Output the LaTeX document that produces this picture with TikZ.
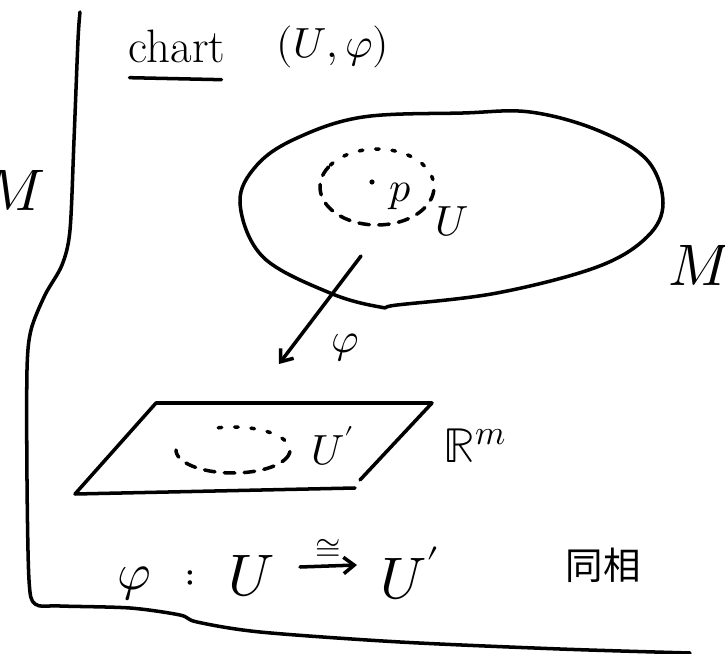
\documentclass[tikz,border=0pt]{standalone}
\usepackage{amsmath}
\usepackage{fontspec}
\usepackage{unicode-math}
\setmathfont{Latin Modern Math}
\usepackage{tikz}
\usetikzlibrary{arrows.meta,positioning,calc}
\newfontfamily\jpfont{Noto Sans CJK JP}
\definecolor{ink}{HTML}{000000}
\definecolor{paper}{HTML}{FFFFFF}
\tikzset{
  pen/.style={draw=ink,line width=3pt,line cap=round,line join=round},
  dotpen/.style={pen,dash pattern=on 3pt off 11pt},
  dashpen/.style={pen,dash pattern=on 9pt off 8pt},
  hand/.style={text=ink,inner sep=0pt,font=\fontsize{36}{40}\selectfont},
  bighand/.style={hand,font=\fontsize{50}{56}\selectfont},
  mapto/.style={pen,-{Straight Barb[length=9pt,width=14pt]}}
}

\begin{document}
\begin{tikzpicture}[x=0.03cm,y=-0.03cm]
    \path[use as bounding box,fill=paper] (0,0) rectangle (725,654);
    % frame on the left and bottom
    \draw[pen] plot[smooth,tension=0.5] coordinates {(80,12) (78,40) (74,140)
      (70,230) (62,265) (45,295) (31,330) (27,370) (27,480) (29,580) (35,604)
      (60,606) (130,608) (180,615) (197,622) (260,632) (400,642) (560,649) (690,653)};
    \node[bighand] (mleft) at (14,190) {$M$};
    % title
    \node[hand,font=\fontsize{40}{44}\selectfont] (chart) at (177,46) {chart};
    \draw[pen] ($(chart.south west)+(1,15)$) -- ($(chart.south east)+(-4,17)$);
    \node[hand] (pair) at (333,47) {$(U,\varphi)$};
    % manifold
    \draw[pen] plot[smooth cycle,tension=0.6] coordinates {(240,203) (257,165)
      (297,138) (363,117) (463,113) (530,112) (597,130) (647,160) (663,203)
      (647,237) (597,267) (497,293) (397,305) (380,307) (330,293) (263,257)};
    \draw[dotpen] plot[domain=215:365,samples=40] ({377+57*cos(\x)},{187+38*sin(\x)});
    \draw[dashpen] plot[domain=5:215,samples=50] ({377+57*cos(\x)},{187+38*sin(\x)});
    \fill[ink] (372,182) circle[radius=2.2pt];
    \node[hand] (p) at (400,196) {$p$};
    \node[hand] (u) at (452,222) {$U$};
    \node[bighand] (mright) at (700,265) {$M$};
    % chart map
    \coordinate (phitail) at (361,256);
    \coordinate (phihead) at (279,364);
    \draw[mapto] (phitail) -- (phihead);
    \node[hand] (phi) at (345,348) {$\varphi$};
    % model space
    \coordinate (pa) at (156,403);
    \coordinate (pb) at (432,403);
    \coordinate (pc) at (360,480);
    \coordinate (pd) at (355,488);
    \coordinate (pe) at (75,494);
    \draw[pen] (pc) -- (pb) -- (pa) -- (pe) -- (pd);
    \draw[dotpen] plot[domain=255:370,samples=30] ({233+57*cos(\x)},{450+23*sin(\x)});
    \draw[dashpen] plot[domain=10:180,samples=40] ({233+57*cos(\x)},{450+23*sin(\x)});
    \node[hand] (uprime) at (333,446) {$U'$};
    \node[hand,font=\fontsize{42}{48}\selectfont] (rm) at (475,446) {$\mathbb{R}^m$};
    % homeomorphism
    \node[hand,font=\fontsize{44}{48}\selectfont] (phib) at (134,584) {$\varphi$};
    \node[hand] (colon) at (190,580) {$:$};
    \node[bighand] (ub) at (252,576) {$U$};
    \node[bighand] (upb) at (410,573) {$U'$};
    \coordinate (arrs) at (300,567);
    \coordinate (arre) at (357,565);
    \draw[mapto] (arrs) -- (arre) node[midway,above=6pt,hand,font=\fontsize{28}{32}\selectfont] (iso) {$\cong$};
    \node[hand,font=\jpfont\fontsize{32}{40}\selectfont] (homeo) at (603,565) {同相};
\end{tikzpicture}
\end{document}
